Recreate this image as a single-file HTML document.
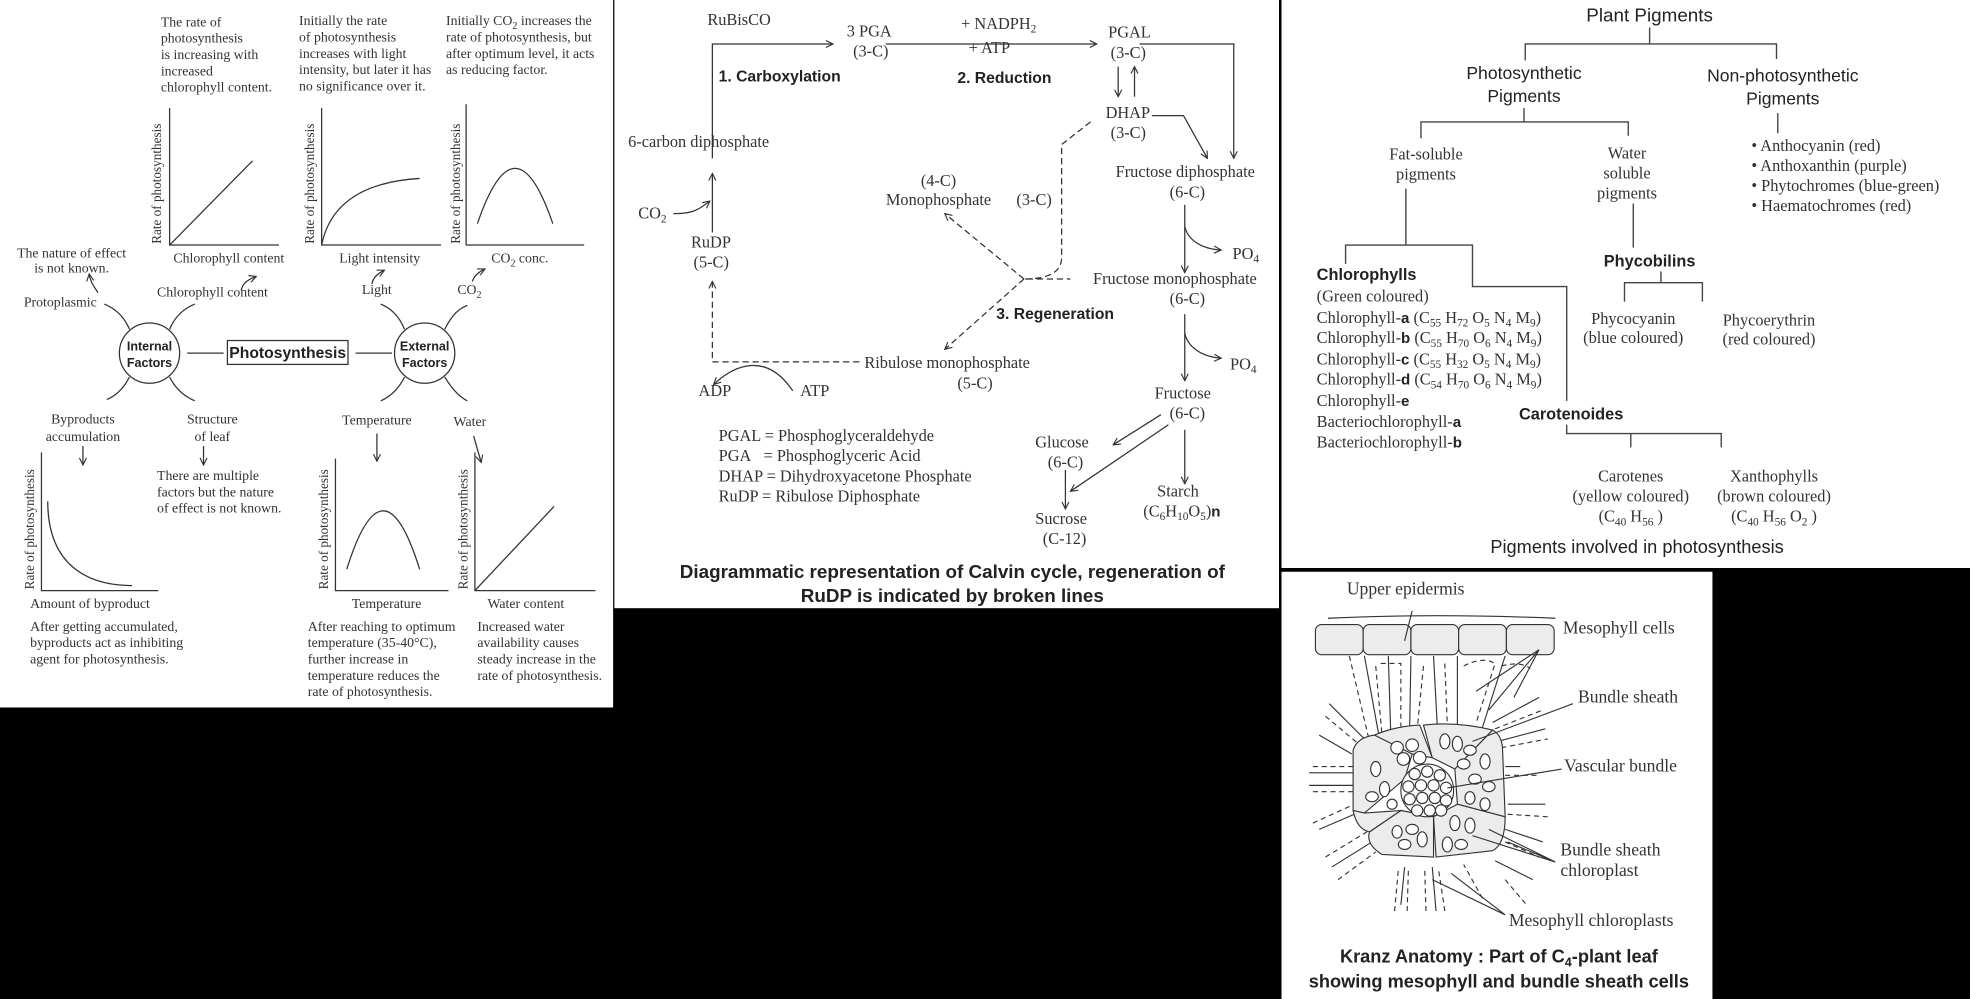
<!DOCTYPE html>
<html><head><meta charset="utf-8"><style>
html,body{margin:0;padding:0;background:#000;width:1970px;height:999px;overflow:hidden}
svg{display:block}
.s{font-family:"Liberation Serif",serif;fill:#333}
.b{font-family:"Liberation Sans",sans-serif;font-weight:bold;fill:#222}
.n{font-family:"Liberation Sans",sans-serif;fill:#222}
</style></head><body>
<svg width="1970" height="999" viewBox="0 0 1568 795" preserveAspectRatio="none" xmlns="http://www.w3.org/2000/svg">
<defs>
<marker id="a" viewBox="0 0 10 10" refX="9" refY="5" markerWidth="7" markerHeight="7" orient="auto-start-reverse"><path d="M1,1 L9,5 L1,9" fill="none" stroke="#333" stroke-width="1.3"/></marker>
</defs>
<rect width="1568" height="795" fill="#000"/>
<rect x="0" y="0" width="488" height="563" fill="#fff"/>
<rect x="489" y="0" width="529" height="484" fill="#fff"/>
<rect x="1020" y="0" width="548" height="452" fill="#fff"/>
<rect x="1020" y="455" width="343" height="340" fill="#fff"/>

<!-- PANEL 1 -->
<g class="s" font-size="11">
<text x="128" y="21">The rate of</text><text x="128" y="34">photosynthesis</text><text x="128" y="47">is increasing with</text><text x="128" y="60">increased</text><text x="128" y="73">chlorophyll content.</text>
<text x="238" y="20">Initially the rate</text><text x="238" y="33">of photosynthesis</text><text x="238" y="46">increases with light</text><text x="238" y="59">intensity, but later it has</text><text x="238" y="72">no significance over it.</text>
<text x="355" y="20">Initially CO<tspan font-size="8" dy="3">2</tspan><tspan dy="-3"> increases the</tspan></text><text x="355" y="33">rate of photosynthesis, but</text><text x="355" y="46">after optimum level, it acts</text><text x="355" y="59">as reducing factor.</text>
<text x="138" y="209">Chlorophyll content</text>
<text x="270" y="209">Light intensity</text>
<text x="391" y="209">CO<tspan font-size="8" dy="3">2</tspan><tspan dy="-3"> conc.</tspan></text>
<text x="57" y="205" text-anchor="middle">The nature of effect</text><text x="57" y="217" text-anchor="middle">is not  known.</text>
<text x="19" y="244">Protoplasmic</text>
<text x="125" y="236">Chlorophyll content</text>
<text x="288" y="234">Light</text>
<text x="364" y="234">CO<tspan font-size="8" dy="3">2</tspan></text>
<text x="66" y="337" text-anchor="middle">Byproducts</text><text x="66" y="351" text-anchor="middle">accumulation</text>
<text x="169" y="337" text-anchor="middle">Structure</text><text x="169" y="351" text-anchor="middle">of leaf</text>
<text x="300" y="338" text-anchor="middle">Temperature</text>
<text x="374" y="339" text-anchor="middle">Water</text>
<text x="125" y="382">There are multiple</text><text x="125" y="395">factors but the nature</text><text x="125" y="408">of effect is not known.</text>
<text x="24" y="484">Amount of byproduct</text>
<text x="24" y="502">After getting accumulated,</text><text x="24" y="515">byproducts act as inhibiting</text><text x="24" y="528">agent for photosynthesis.</text>
<text x="280" y="484">Temperature</text>
<text x="388" y="484">Water content</text>
<text x="245" y="502">After reaching to optimum</text><text x="245" y="515">temperature (35-40°C),</text><text x="245" y="528">further increase in</text><text x="245" y="541">temperature reduces the</text><text x="245" y="554">rate of photosynthesis.</text>
<text x="380" y="502">Increased water</text><text x="380" y="515">availability causes</text><text x="380" y="528">steady increase in the</text><text x="380" y="541">rate of photosynthesis.</text>
<g font-size="10.5">
<text transform="translate(128,194) rotate(-90)">Rate of photosynthesis</text>
<text transform="translate(250,194) rotate(-90)">Rate of photosynthesis</text>
<text transform="translate(366,194) rotate(-90)">Rate of photosynthesis</text>
<text transform="translate(27,469) rotate(-90)">Rate of photosynthesis</text>
<text transform="translate(261,469) rotate(-90)">Rate of photosynthesis</text>
<text transform="translate(372,469) rotate(-90)">Rate of photosynthesis</text>
</g>
</g>
<g fill="none" stroke="#333" stroke-width="1">
<path d="M135,86 V195 H222"/><path d="M135,195 L201,128"/>
<path d="M256,86 V195 H351"/><path d="M256,195 C262,165 285,145 334,142"/>
<path d="M371,83 V195 H465"/><path d="M380,178 Q410,90 440,178"/>
<path d="M33,360 V470 H126"/><path d="M38,399 C38,450 70,466 105,466"/>
<path d="M267,365 V470 H357"/><path d="M276,453 Q305,360 334,453"/>
<path d="M378,360 V470 H474"/><path d="M378,470 L441,403"/>
<circle cx="119" cy="281" r="24"/><circle cx="338" cy="281" r="24"/>
<rect x="181" y="271" width="96" height="19"/>
<path d="M149,281 H178 M283,281 H312"/>
<path d="M103,262 C98,250 90,245 83,242"/><path d="M135,262 C140,250 148,245 155,242"/>
<path d="M103,300 C98,310 92,315 85,318"/><path d="M135,300 C140,310 148,316 155,319"/>
<path d="M322,262 C317,250 310,245 303,242"/><path d="M354,262 C360,250 365,246 372,243"/>
<path d="M322,300 C317,310 310,316 303,319"/><path d="M354,300 C360,310 366,316 372,319"/>
<path d="M78,233 C75,228 72,225 71,218" marker-end="url(#a)"/>
<path d="M192,231 C193,226 196,223 204,220" marker-end="url(#a)"/>
<path d="M296,226 C297,221 300,218 306,215" marker-end="url(#a)"/>
<path d="M376,224 C377,220 380,217 386,214" marker-end="url(#a)"/>
<path d="M66,355 V370" marker-end="url(#a)"/><path d="M162,355 V370" marker-end="url(#a)"/>
<path d="M300,345 V367" marker-end="url(#a)"/><path d="M377,347 L383,368" marker-end="url(#a)"/>
</g>
<text class="b" font-size="10" x="119" y="279" text-anchor="middle">Internal</text>
<text class="b" font-size="10" x="119" y="292" text-anchor="middle">Factors</text>
<text class="b" font-size="10" x="338" y="279" text-anchor="middle">External</text>
<text class="b" font-size="10" x="338" y="292" text-anchor="middle">Factors</text>
<text class="n" font-size="12.5" font-weight="bold" x="229" y="285" text-anchor="middle" fill="#222">Photosynthesis</text>

<!-- PANEL 2 -->
<g class="s" font-size="13">
<text x="563" y="20">RuBisCO</text>
<text x="674" y="29">3 PGA</text><text x="679" y="45">(3-C)</text>
<text x="765" y="23">+ NADPH<tspan font-size="9" dy="3">2</tspan></text><text x="771" y="42">+ ATP</text>
<text x="882" y="30">PGAL</text><text x="884" y="46">(3-C)</text>
<text x="880" y="94">DHAP</text><text x="884" y="110">(3-C)</text>
<text x="500" y="117">6-carbon diphosphate</text>
<text x="508" y="174">CO<tspan font-size="9" dy="3">2</tspan></text>
<text x="550" y="197">RuDP</text><text x="552" y="213">(5-C)</text>
<text x="747" y="148" text-anchor="middle">(4-C)</text><text x="747" y="163" text-anchor="middle">Monophosphate</text>
<text x="809" y="163">(3-C)</text>
<text x="888" y="141">Fructose diphosphate</text><text x="931" y="157">(6-C)</text>
<text x="981" y="206">PO<tspan font-size="9" dy="3">4</tspan></text>
<text x="870" y="226">Fructose monophosphate</text><text x="931" y="242">(6-C)</text>
<text x="979" y="294">PO<tspan font-size="9" dy="3">4</tspan></text>
<text x="919" y="317">Fructose</text><text x="931" y="333">(6-C)</text>
<text x="688" y="293">Ribulose monophosphate</text><text x="762" y="309">(5-C)</text>
<text x="556" y="315">ADP</text><text x="637" y="315">ATP</text>
<text x="824" y="356">Glucose</text><text x="834" y="372">(6-C)</text>
<text x="824" y="417">Sucrose</text><text x="830" y="433">(C-12)</text>
<text x="921" y="395">Starch</text><text x="910" y="411">(C<tspan font-size="9" dy="3">6</tspan><tspan dy="-3">H</tspan><tspan font-size="9" dy="3">10</tspan><tspan dy="-3">O</tspan><tspan font-size="9" dy="3">5</tspan><tspan dy="-3">)</tspan><tspan class="b" font-size="12" fill="#333">n</tspan></text>
<text x="572" y="351">PGAL = Phosphoglyceraldehyde</text>
<text x="572" y="367">PGA&#160;&#160;&#160;= Phosphoglyceric Acid</text>
<text x="572" y="383">DHAP = Dihydroxyacetone Phosphate</text>
<text x="572" y="399">RuDP = Ribulose Diphosphate</text>
</g>
<g class="b" font-size="12.5"><text x="572" y="65">1. Carboxylation</text><text x="762" y="66">2. Reduction</text><text x="793" y="254">3. Regeneration</text></g>
<g class="n" font-size="15" font-weight="bold" fill="#222"><text x="758" y="460" text-anchor="middle">Diagrammatic representation of Calvin cycle, regeneration of</text><text x="758" y="479" text-anchor="middle">RuDP is indicated by broken lines</text></g>
<g fill="none" stroke="#333" stroke-width="1">
<path d="M567,126 V35 H663" marker-end="url(#a)"/>
<path d="M705,35 H873" marker-end="url(#a)"/>
<path d="M907,35 H982 V126" marker-end="url(#a)"/>
<path d="M890,53 V77" marker-end="url(#a)"/><path d="M903,77 V53" marker-end="url(#a)"/>
<path d="M917,92 H942 L961,126" marker-end="url(#a)"/>
<path d="M567,185 V138" marker-end="url(#a)"/>
<path d="M536,170 C550,170 555,168 565,160" marker-end="url(#a)"/>
<path d="M943,163 V217" marker-end="url(#a)"/><path d="M943,180 C945,190 955,198 972,199" marker-end="url(#a)"/>
<path d="M943,250 V303" marker-end="url(#a)"/><path d="M943,265 C945,275 955,284 972,285" marker-end="url(#a)"/>
<path d="M924,330 L886,354" marker-end="url(#a)"/>
<path d="M943,342 V385" marker-end="url(#a)"/>
<path d="M930,338 L852,391" marker-end="url(#a)"/>
<path d="M848,374 V405" marker-end="url(#a)"/>
<path d="M631,311 C610,280 585,290 568,306" marker-end="url(#a)"/>
<g stroke-dasharray="5,3">
<path d="M684,288 H567 V224" marker-end="url(#a)"/>
<path d="M868,97 L845,115 V205 Q845,222 815,222 H852"/>
<path d="M815,222 L752,170" marker-end="url(#a)"/>
<path d="M815,222 L752,278" marker-end="url(#a)"/>
</g>
</g>

<!-- PANEL 3 -->
<text class="n" font-size="15" x="1313" y="17" text-anchor="middle">Plant Pigments</text>
<g class="n" font-size="14"><text x="1213" y="63" text-anchor="middle">Photosynthetic</text><text x="1213" y="81" text-anchor="middle">Pigments</text>
<text x="1419" y="65" text-anchor="middle">Non-photosynthetic</text><text x="1419" y="83" text-anchor="middle">Pigments</text></g>
<g class="s" font-size="13">
<text x="1135" y="127" text-anchor="middle">Fat-soluble</text><text x="1135" y="143" text-anchor="middle">pigments</text>
<text x="1295" y="126" text-anchor="middle">Water</text><text x="1295" y="142" text-anchor="middle">soluble</text><text x="1295" y="158" text-anchor="middle">pigments</text>
<text x="1394" y="120">• Anthocyanin (red)</text><text x="1394" y="136">• Anthoxanthin (purple)</text><text x="1394" y="152">• Phytochromes (blue-green)</text><text x="1394" y="168">• Haematochromes (red)</text>
<text x="1048" y="240">(Green coloured)</text>
<text x="1048" y="257">Chlorophyll-<tspan class="b" font-size="12" fill="#333">a</tspan> (C<tspan font-size="9" dy="3">55</tspan><tspan dy="-3"> H</tspan><tspan font-size="9" dy="3">72</tspan><tspan dy="-3"> O</tspan><tspan font-size="9" dy="3">5</tspan><tspan dy="-3"> N</tspan><tspan font-size="9" dy="3">4</tspan><tspan dy="-3"> M</tspan><tspan font-size="9" dy="3">9</tspan><tspan dy="-3">)</tspan></text>
<text x="1048" y="273">Chlorophyll-<tspan class="b" font-size="12" fill="#333">b</tspan> (C<tspan font-size="9" dy="3">55</tspan><tspan dy="-3"> H</tspan><tspan font-size="9" dy="3">70</tspan><tspan dy="-3"> O</tspan><tspan font-size="9" dy="3">6</tspan><tspan dy="-3"> N</tspan><tspan font-size="9" dy="3">4</tspan><tspan dy="-3"> M</tspan><tspan font-size="9" dy="3">9</tspan><tspan dy="-3">)</tspan></text>
<text x="1048" y="290">Chlorophyll-<tspan class="b" font-size="12" fill="#333">c</tspan> (C<tspan font-size="9" dy="3">55</tspan><tspan dy="-3"> H</tspan><tspan font-size="9" dy="3">32</tspan><tspan dy="-3"> O</tspan><tspan font-size="9" dy="3">5</tspan><tspan dy="-3"> N</tspan><tspan font-size="9" dy="3">4</tspan><tspan dy="-3"> M</tspan><tspan font-size="9" dy="3">9</tspan><tspan dy="-3">)</tspan></text>
<text x="1048" y="306">Chlorophyll-<tspan class="b" font-size="12" fill="#333">d</tspan> (C<tspan font-size="9" dy="3">54</tspan><tspan dy="-3"> H</tspan><tspan font-size="9" dy="3">70</tspan><tspan dy="-3"> O</tspan><tspan font-size="9" dy="3">6</tspan><tspan dy="-3"> N</tspan><tspan font-size="9" dy="3">4</tspan><tspan dy="-3"> M</tspan><tspan font-size="9" dy="3">9</tspan><tspan dy="-3">)</tspan></text>
<text x="1048" y="323">Chlorophyll-<tspan class="b" font-size="12" fill="#333">e</tspan></text>
<text x="1048" y="340">Bacteriochlorophyll-<tspan class="b" font-size="12" fill="#333">a</tspan></text>
<text x="1048" y="356">Bacteriochlorophyll-<tspan class="b" font-size="12" fill="#333">b</tspan></text>
<text x="1300" y="258" text-anchor="middle">Phycocyanin</text><text x="1300" y="273" text-anchor="middle">(blue coloured)</text>
<text x="1408" y="259" text-anchor="middle">Phycoerythrin</text><text x="1408" y="274" text-anchor="middle">(red coloured)</text>
<text x="1298" y="383" text-anchor="middle">Carotenes</text><text x="1298" y="399" text-anchor="middle">(yellow coloured)</text><text x="1298" y="415" text-anchor="middle">(C<tspan font-size="9" dy="3">40</tspan><tspan dy="-3"> H</tspan><tspan font-size="9" dy="3">56</tspan><tspan dy="-3"> )</tspan></text>
<text x="1412" y="383" text-anchor="middle">Xanthophylls</text><text x="1412" y="399" text-anchor="middle">(brown coloured)</text><text x="1412" y="415" text-anchor="middle">(C<tspan font-size="9" dy="3">40</tspan><tspan dy="-3"> H</tspan><tspan font-size="9" dy="3">56</tspan><tspan dy="-3"> O</tspan><tspan font-size="9" dy="3">2</tspan><tspan dy="-3"> )</tspan></text>
</g>
<g class="n" font-size="13" font-weight="bold"><text x="1048" y="223">Chlorophylls</text><text x="1313" y="212" text-anchor="middle">Phycobilins</text><text x="1209" y="334">Carotenoides</text></g>
<text class="n" font-size="14.5" x="1303" y="440" text-anchor="middle">Pigments involved in photosynthesis</text>
<g fill="none" stroke="#444" stroke-width="1.1">
<path d="M1313,22 V35 M1214,48 V35 H1414 V47"/>
<path d="M1213,86 V97 M1131,110 V97 H1296 V108"/>
<path d="M1415,90 V106"/>
<path d="M1119,150 V195 M1071,210 V195 H1172 V228 H1247 V319"/>
<path d="M1300,162 V197"/>
<path d="M1322,216 V225 M1293,240 V225 H1355 V240"/>
<path d="M1247,338 V345 H1370 V356 M1298,345 H1298 M1298,356 V345"/>
</g>

<!-- PANEL 4 -->
<g class="s" font-size="14">
<text x="1072" y="473">Upper epidermis</text>
<text x="1244" y="504">Mesophyll cells</text>
<text x="1256" y="559">Bundle sheath</text>
<text x="1245" y="614">Vascular bundle</text>
<text x="1242" y="681">Bundle sheath</text><text x="1242" y="697">chloroplast</text>
<text x="1201" y="737">Mesophyll chloroplasts</text>
</g>
<g class="n" font-size="14.5" font-weight="bold"><text x="1193" y="766" text-anchor="middle">Kranz Anatomy : Part of  C<tspan font-size="10" dy="3">4</tspan><tspan dy="-3">-plant leaf</tspan></text><text x="1193" y="786" text-anchor="middle">showing mesophyll and bundle sheath cells</text></g>
<g stroke="#333" stroke-width="0.9" fill="none">
<path d="M1057,492 Q1140,488 1238,492"/>
<g fill="#ececec">
<rect x="1047" y="497" width="38" height="24" rx="5"/><rect x="1085" y="497" width="38" height="24" rx="5"/><rect x="1123" y="497" width="38" height="24" rx="5"/><rect x="1161" y="497" width="38" height="24" rx="5"/><rect x="1199" y="497" width="38" height="24" rx="5"/>
</g>
<path d="M1124,486 L1118,510"/>
<!-- mesophyll lines -->
<path d="M1086,522 L1098,588 M1105,522 L1107,585 M1123,522 L1122,580 M1141,522 L1144,578 M1160,522 L1160,578 M1198,522 L1178,585 M1058,560 L1088,590 M1050,585 L1076,600 M1042,615 L1077,615 M1042,625 L1077,625 M1050,660 L1078,648 M1060,690 L1092,670 M1115,720 L1118,690 M1143,725 L1140,690 M1210,610 L1198,610 M1200,640 L1230,640 M1198,660 L1228,670 M1190,685 L1220,700 M1188,575 L1225,555 M1192,590 L1230,580"/>
<g stroke-dasharray="4,3">
<path d="M1074,522 L1090,590 M1095,530 L1100,585 M1099,528 H1115 V580 M1133,530 L1128,580 M1150,528 L1152,578 M1165,530 Q1180,522 1190,528 L1175,575 M1195,530 Q1210,526 1218,532 M1055,570 L1085,595 M1045,610 L1077,610 M1045,630 L1077,630 M1045,655 L1078,640 M1055,682 L1088,662 M1065,700 L1095,678 M1110,725 L1113,692 M1120,725 L1121,692 M1135,725 L1134,692 M1150,725 L1145,692 M1180,715 L1165,688 M1198,617 H1225 M1200,648 L1232,650 M1198,670 L1225,682 M1190,580 L1228,565 M1195,595 L1232,588 M1198,700 L1215,720"/>
</g>
<g fill="#ececec">
<path d="M1077,597 Q1080,587 1094,585 L1113,582 L1124,600 L1118,620 L1086,647 L1077,645 Z"/>
<path d="M1094,585 Q1110,578 1130,577 L1140,603 L1124,600 Z"/>
<path d="M1133,577 Q1160,574 1188,581 L1158,612 L1140,603 Z"/>
<path d="M1188,581 Q1196,585 1196,598 L1198,650 L1160,640 L1158,612 Z"/>
<path d="M1198,650 Q1198,672 1188,677 L1143,682 L1141,650 L1160,640 Z"/>
<path d="M1141,682 L1100,680 Q1087,672 1090,662 L1115,645 L1141,650 Z"/>
<path d="M1077,645 L1086,647 L1115,645 L1090,662 Q1080,660 1077,645 Z"/>
</g>
<circle cx="1136" cy="629" r="21" fill="#fff"/>
<g fill="#fff">
<circle cx="1126" cy="616" r="4.5"/><circle cx="1136" cy="614" r="4.5"/><circle cx="1146" cy="617" r="4.5"/><circle cx="1121" cy="626" r="4.5"/><circle cx="1131" cy="625" r="4.5"/><circle cx="1141" cy="625" r="4.5"/><circle cx="1151" cy="627" r="4.5"/><circle cx="1122" cy="636" r="4.5"/><circle cx="1132" cy="635" r="4.5"/><circle cx="1142" cy="635" r="4.5"/><circle cx="1151" cy="637" r="4.5"/><circle cx="1128" cy="645" r="4.5"/><circle cx="1138" cy="645" r="4.5"/><circle cx="1147" cy="645" r="4.5"/>
<circle cx="1112" cy="595" r="5"/><circle cx="1124" cy="593" r="5"/><circle cx="1117" cy="604" r="5"/><circle cx="1130" cy="603" r="5"/>
<ellipse cx="1095" cy="612" rx="4" ry="6"/><ellipse cx="1102" cy="628" rx="4" ry="6"/><ellipse cx="1092" cy="634" rx="5" ry="4"/><ellipse cx="1108" cy="640" rx="4" ry="4"/>
<ellipse cx="1150" cy="590" rx="4" ry="6"/><ellipse cx="1160" cy="592" rx="4" ry="6"/><ellipse cx="1170" cy="597" rx="5" ry="4"/><ellipse cx="1165" cy="608" rx="5" ry="4"/>
<ellipse cx="1182" cy="606" rx="4" ry="6"/><ellipse cx="1174" cy="620" rx="5" ry="4"/><ellipse cx="1185" cy="626" rx="5" ry="4"/><ellipse cx="1170" cy="635" rx="4" ry="5"/><ellipse cx="1182" cy="640" rx="4" ry="5"/>
<ellipse cx="1158" cy="655" rx="4" ry="6"/><ellipse cx="1170" cy="657" rx="4" ry="6"/><ellipse cx="1152" cy="672" rx="4" ry="6"/><ellipse cx="1163" cy="672" rx="5" ry="4"/>
<ellipse cx="1112" cy="662" rx="4" ry="5"/><ellipse cx="1124" cy="660" rx="5" ry="4"/><ellipse cx="1132" cy="668" rx="4" ry="6"/><ellipse cx="1118" cy="672" rx="5" ry="4"/>
</g>
<path d="M1225,517 L1185,565 M1225,517 L1175,550 M1225,517 L1205,555 M1252,560 L1172,590 M1243,612 L1152,627 M1238,686 L1185,660 M1238,686 L1172,665 M1238,686 L1200,670 M1198,728 L1140,700 M1198,728 L1155,695"/>
</g>
</svg>
</body></html>
